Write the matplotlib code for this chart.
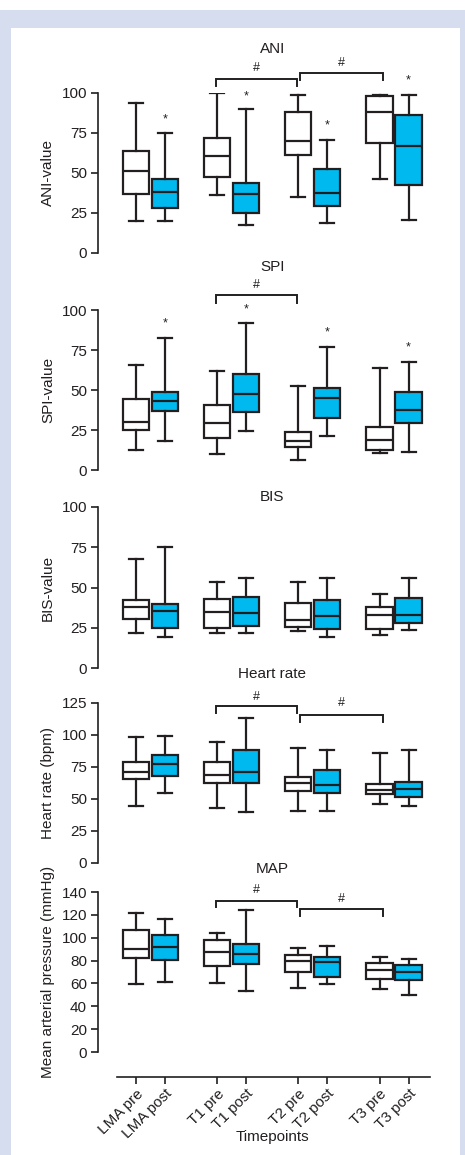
import matplotlib
matplotlib.use("Agg")
import matplotlib.pyplot as plt
from matplotlib.patches import Rectangle
import matplotlib.transforms as mtrans

plt.rcParams['font.family'] = ['Liberation Sans', 'DejaVu Sans']

W, H = 465, 1155
FS = 11

labels = ["LMA pre", "LMA post", "T1 pre", "T1 post", "T2 pre", "T2 post", "T3 pre", "T3 post"]
positions = [0, 1, 2.8, 3.8, 5.6, 6.6, 8.4, 9.4]

# each box: (whislo, q1, median, q3, whishi)
ani = [(20, 37, 51, 64, 94), (20, 28, 38, 46.5, 75),
       (36.5, 47.3, 60.8, 71.7, 100), (17.3, 24.8, 37, 44, 90),
       (35, 61, 70, 88, 99), (18.8, 29.4, 37.3, 52.7, 70.4),
       (46.5, 69, 88, 98.3, 99), (20.6, 42.7, 66.7, 86, 99)]
spi = [(12.5, 24.8, 30.2, 44.2, 65.6), (18.3, 36.9, 43.3, 48.8, 82.7),
       (9.8, 20, 29.4, 40.8, 62), (24.6, 36.3, 47.5, 59.8, 91.9),
       (6.3, 14.4, 18.1, 24, 52.3), (21.5, 32.5, 45, 51, 76.9),
       (10.4, 12.7, 18.5, 27, 63.8), (11.5, 29.2, 37.3, 48.5, 67.7)]
bis = [(21.7, 30.4, 37.9, 42, 67.7), (19, 24.8, 35.2, 40, 75),
       (21.7, 24.6, 35, 42.6, 53.6), (21.7, 25.9, 34, 43.9, 55.7),
       (23, 25.3, 30, 40.4, 53.6), (19, 24.4, 32.3, 42, 55.7),
       (20.7, 24.2, 33.1, 37.9, 46), (23.8, 27.7, 33.1, 43.3, 55.7)]
hr = [(44.7, 65.6, 70.9, 79.2, 98.8), (54.7, 68, 77.4, 84.2, 99.4),
      (42.6, 62.5, 69, 79.2, 94.9), (39.5, 62.2, 70.9, 88.1, 113),
      (40.5, 56.2, 62.2, 67.5, 90), (40.5, 54.4, 61.2, 72.4, 88.4),
      (45.8, 53.6, 57.3, 62, 86), (44.7, 51.5, 57.5, 63, 88.4)]
mapv = [(59.5, 82, 90.4, 106.5, 121.9), (61.5, 80.8, 91.6, 102.4, 116.4),
        (60.4, 75, 87.2, 97.7, 103.8), (53.4, 76.7, 86, 94.8, 124.5),
        (56.3, 69.7, 79.3, 84.6, 91.3), (59.5, 65.6, 79, 83.4, 92.5),
        (54.8, 63.6, 72, 77.9, 82.8), (49.6, 62.7, 70, 76.4, 81.4)]

# star annotations: (box index, y)
ani_stars = [(1, 83.7), (3, 98), (5, 79.6), (7, 108)]
spi_stars = [(1, 91.7), (3, 100.6), (5, 85.8), (7, 76.5)]
# brackets: (x1, x2, y, leg_bottom, hash_y)
ani_br = [(2.75, 5.55, 109, 104.6, 115.6), (5.66, 8.52, 112.3, 108, 119)]
spi_br = [(2.75, 5.55, 109.2, 104.2, 115.6)]
hr_br = [(2.75, 5.55, 122.6, 116.9, 130), (5.66, 8.52, 115.3, 109.8, 124.7)]
map_br = [(2.75, 5.55, 132.4, 126.6, 141.5), (5.66, 8.52, 124.8, 118.7, 133.9)]

panels = [
    dict(title="ANI", ylabel="ANI-value", data=ani, yt=[0, 25, 50, 75, 100], ylim=(0, 100),
         top=93, bot=253, stars=ani_stars, br=ani_br, ty=49),
    dict(title="SPI", ylabel="SPI-value", data=spi, yt=[0, 25, 50, 75, 100], ylim=(0, 100),
         top=310, bot=470, stars=spi_stars, br=spi_br, ty=267),
    dict(title="BIS", ylabel="BIS-value", data=bis, yt=[0, 25, 50, 75, 100], ylim=(0, 100),
         top=507, bot=668, stars=[], br=[], ty=497),
    dict(title="Heart rate", ylabel="Heart rate (bpm)", data=hr, yt=[0, 25, 50, 75, 100, 125], ylim=(0, 125),
         top=703, bot=863, stars=[], br=hr_br, ty=674),
    dict(title="MAP", ylabel="Mean arterial pressure (mmHg)", data=mapv, yt=list(range(0, 141, 20)), ylim=(0, 140),
         top=892, bot=1052, stars=[], br=map_br, ty=869),
]

fig = plt.figure(figsize=(W / 100, H / 100), dpi=100)
fig.patch.set_facecolor('white')

frame_col = '#d5ddee'
for (x0, y0, x1, y1) in [(0, 10, 465, 28), (0, 10, 11, 1155), (460, 10, 465, 1155)]:
    fig.patches.append(Rectangle((x0 / W, 1 - y1 / H), (x1 - x0) / W, (y1 - y0) / H,
                                 transform=fig.transFigure, facecolor=frame_col,
                                 edgecolor='none', zorder=0))

edge = '#231f20'
blue = '#00b9ef'
ax_left, ax_right = 98, 430
xl = (-1.31, 10.14)

for i, p in enumerate(panels):
    ax = fig.add_axes([ax_left / W, 1 - p['bot'] / H, (ax_right - ax_left) / W, (p['bot'] - p['top']) / H])
    ax.set_facecolor('none')
    stats = []
    for d in p['data']:
        stats.append(dict(whislo=d[0], q1=d[1], med=d[2], q3=d[3], whishi=d[4], fliers=[]))
    bp = ax.bxp(stats, positions=positions, widths=0.9, patch_artist=True, showfliers=False,
                boxprops=dict(linewidth=1.6, edgecolor=edge),
                medianprops=dict(color=edge, linewidth=1.6),
                whiskerprops=dict(color=edge, linewidth=1.6),
                capprops=dict(color=edge, linewidth=1.6),
                capwidths=0.48, manage_ticks=False)
    for j, b in enumerate(bp['boxes']):
        b.set_facecolor('white' if j % 2 == 0 else blue)
    ax.set_xlim(*xl)
    ax.set_ylim(*p['ylim'])
    ax.set_yticks(p['yt'])
    ax.tick_params(axis='y', length=5, width=1.2, color=edge, labelsize=FS, pad=3, labelcolor=edge)
    for s in ['top', 'right']:
        ax.spines[s].set_visible(False)
    ax.spines['left'].set_linewidth(1.2)
    ax.spines['left'].set_color(edge)
    ax.set_ylabel(p['ylabel'], fontsize=FS, color=edge, va='center')
    ax.yaxis.set_label_coords(48 / W, 0.5,
                              transform=mtrans.blended_transform_factory(fig.transFigure, ax.transAxes))
    # title
    fig.text((136 + 4.7 * 29) / W, 1 - p['ty'] / H, p['title'], ha='center', va='center',
             fontsize=FS, color=edge)
    for (k, y) in p['stars']:
        ax.text(positions[k], y, '*', ha='center', va='center', fontsize=FS - 2, color=edge, clip_on=False)
    for (x1, x2, y, yb, hy) in p['br']:
        ax.plot([x1, x1, x2, x2], [yb, y, y, yb], color=edge, linewidth=1.4, clip_on=False,
                solid_joinstyle='miter')
        ax.text((x1 + x2) / 2, hy, '#', ha='center', va='center', fontsize=FS - 2, color=edge, clip_on=False)
    if i < len(panels) - 1:
        ax.spines['bottom'].set_visible(False)
        ax.set_xticks([])
    else:
        ax.spines['bottom'].set_position(('outward', 18))
        ax.spines['bottom'].set_bounds(-0.66, 10.14)
        ax.spines['bottom'].set_linewidth(1.2)
        ax.spines['bottom'].set_color(edge)
        ax.set_xticks(positions)
        ax.set_xticklabels(labels, rotation=45, ha='right', rotation_mode='anchor', fontsize=FS,
                           color=edge)
        ax.tick_params(axis='x', length=5, width=1.2, color=edge, pad=2)
        fig.text((136 + 4.7 * 29) / W, 1 - 1137 / H, 'Timepoints', ha='center', va='center',
                 fontsize=FS, color=edge)

fig.savefig('out.png', dpi=100)
